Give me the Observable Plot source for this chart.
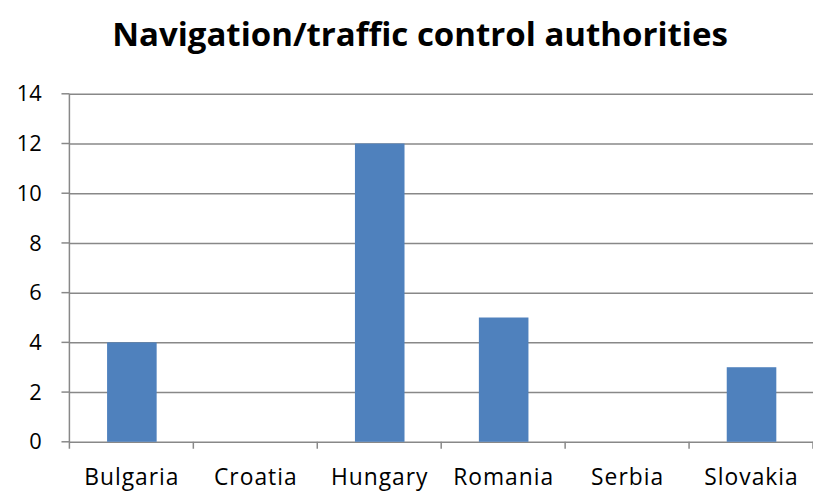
<!DOCTYPE html>
<html>
<head>
<meta charset="utf-8">
<script src="https://cdn.jsdelivr.net/npm/d3@7"></script>
<script src="https://cdn.jsdelivr.net/npm/@observablehq/plot@0.6"></script>
<style>
html, body { margin: 0; padding: 0; background: #fff; overflow: hidden; }
#title { height: 70px; box-sizing: border-box; padding-top: 16px; padding-left: 20px; width: 820px; text-align: center;
  font-family: "Open Sans", sans-serif; font-weight: bold; font-size: 33px; line-height: 36px; color: #000; }
#chart svg { display: block; }
</style>
</head>
<body>
<div id="title">Navigation/traffic control authorities</div>
<div id="chart"></div>
<script>
const categories = ["Bulgaria", "Croatia", "Hungary", "Romania", "Serbia", "Slovakia"];
const values = [4, 0, 12, 5, 0, 3];
const yTicks = [0, 2, 4, 6, 8, 10, 12, 14];

const data = categories.map((c, i) => ({category: c, value: values[i]}));

const W = 820, H = 426, ML = 70, MR = 0, MT = 24, MB = 51;
const FONT = "'Open Sans', sans-serif";

const chart = Plot.plot({
  width: W,
  height: H,
  marginLeft: ML,
  marginRight: MR,
  marginTop: MT,
  marginBottom: MB,
  style: {fontFamily: FONT, fontSize: "22px", color: "#000", background: "#fff"},
  x: {domain: categories, paddingInner: 0.6, paddingOuter: 0.3, axis: null},
  y: {domain: [0, 14], axis: null},
  marks: [
    Plot.ruleY(yTicks, {stroke: "#888", strokeWidth: 1.5}),
    Plot.barY(data, {x: "category", y: "value", fill: "#4F81BD"}),
    Plot.ruleY([0], {stroke: "#888", strokeWidth: 1.5, render: (index, scales) => {
      const g = d3.create("svg:g");
      const x0 = ML;
      const yTop = scales.y(14), yBot = scales.y(0);
      const step = scales.x.step();
      const stroke = "#888";
      g.append("line").attr("x1", x0).attr("x2", x0).attr("y1", yTop).attr("y2", yBot + 7).attr("stroke", stroke).attr("stroke-width", 1.5);
      for (const t of yTicks) {
        g.append("line").attr("x1", x0 - 8).attr("x2", x0).attr("y1", scales.y(t)).attr("y2", scales.y(t)).attr("stroke", stroke).attr("stroke-width", 1.5);
        g.append("text").attr("x", 42).attr("y", scales.y(t)).attr("dy", "0.35em").attr("text-anchor", "end")
          .attr("font-size", 22).attr("font-family", FONT).attr("fill", "#000").text(String(t));
      }
      for (let i = 1; i <= categories.length; i++) {
        const xb = x0 + i * step;
        g.append("line").attr("x1", xb).attr("x2", xb).attr("y1", yBot).attr("y2", yBot + 7).attr("stroke", stroke).attr("stroke-width", 1.5);
      }
      for (const c of categories) {
        const xc = scales.x(c) + scales.x.bandwidth() / 2;
        g.append("text").attr("x", xc).attr("y", yBot + 44).attr("text-anchor", "middle")
          .attr("font-size", 23).attr("letter-spacing", "1px").attr("font-family", FONT).attr("fill", "#000").text(c);
      }
      return g.node();
    }})
  ]
});
document.getElementById("chart").appendChild(chart);
</script>
</body>
</html>
